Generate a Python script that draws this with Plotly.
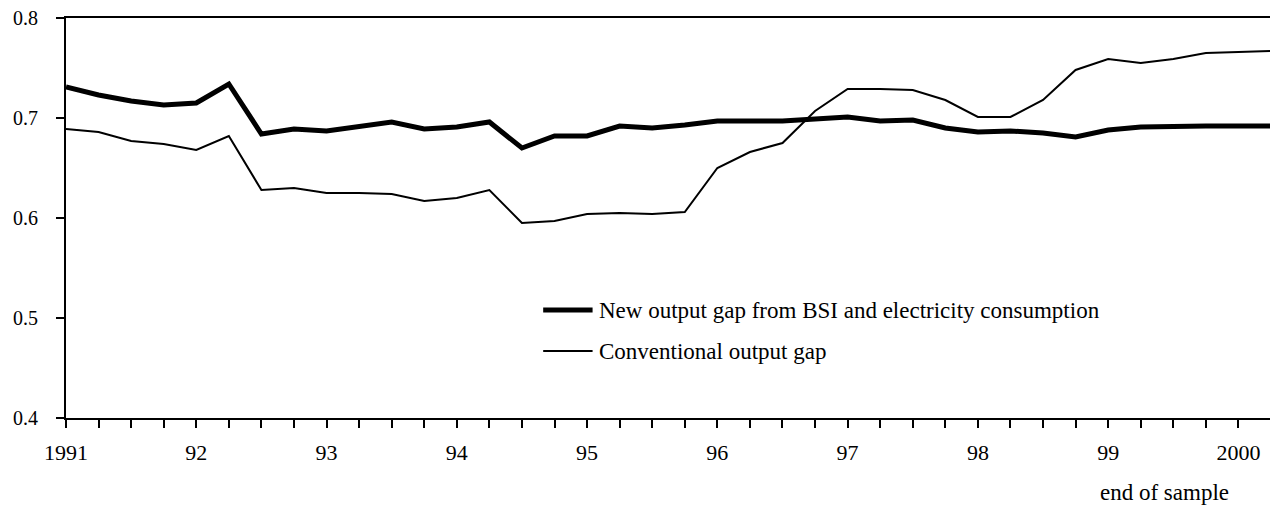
"""Output gap estimates: new (BSI + electricity) vs conventional, by end of sample."""

import plotly.graph_objects as go

# quarterly end-of-sample points, 1991Q1 .. 2000Q2
QUARTERS = [1991 + i * 0.25 for i in range(38)]

NEW_GAP = [
    0.731, 0.723, 0.717, 0.713, 0.715, 0.734, 0.684, 0.689,
    0.687, 0.692, 0.696, 0.689, 0.691, 0.696, 0.670, 0.682,
    0.682, 0.692, 0.690, 0.693, 0.697, 0.697, 0.697, 0.699,
    0.701, 0.697, 0.698, 0.690, 0.686, 0.687, 0.685, 0.681,
    0.688, 0.691, 0.692, 0.692, 0.692, 0.692,
]

CONVENTIONAL_GAP = [
    0.689, 0.686, 0.677, 0.674, 0.668, 0.682, 0.628, 0.630,
    0.625, 0.625, 0.624, 0.617, 0.620, 0.628, 0.595, 0.597,
    0.604, 0.605, 0.604, 0.606, 0.650, 0.666, 0.675, 0.707,
    0.729, 0.729, 0.728, 0.718, 0.701, 0.701, 0.718, 0.748,
    0.759, 0.755, 0.759, 0.765, 0.766, 0.767,
]

YEAR_LABELS = ["1991", "92", "93", "94", "95", "96", "97", "98", "99", "2000"]

SERIES_NAMES = [
    "New output gap from BSI and electricity consumption",
    "Conventional output gap",
]

FONT = "Times New Roman, Liberation Serif, DejaVu Serif, serif"

# tick at every quarter, label only at Q1
tick_text = []
for i, q in enumerate(QUARTERS):
    tick_text.append(YEAR_LABELS[i // 4] if i % 4 == 0 and i // 4 < len(YEAR_LABELS) else "")

fig = go.Figure()
fig.add_trace(go.Scatter(
    x=QUARTERS, y=NEW_GAP, mode="lines", name=SERIES_NAMES[0],
    line=dict(color="black", width=5),
))
fig.add_trace(go.Scatter(
    x=QUARTERS, y=CONVENTIONAL_GAP, mode="lines", name=SERIES_NAMES[1],
    line=dict(color="black", width=2),
))

axis_common = dict(
    showgrid=False, zeroline=False, automargin=False,
    showline=True, linecolor="black", linewidth=2, mirror=True,
    ticks="outside", ticklen=8, tickwidth=2, tickcolor="black",
    ticklabeloverflow="allow",
)

# page body adds an 8px margin, so the figure is 8px smaller than the window
fig.update_layout(
    width=1270, height=498,
    margin=dict(l=58, r=7, t=10, b=88),
    paper_bgcolor="white", plot_bgcolor="white",
    showlegend=False,
    font=dict(family=FONT, size=22, color="black"),
    xaxis=dict(
        range=[QUARTERS[0], QUARTERS[-1]],
        tickmode="array", tickvals=QUARTERS, ticktext=tick_text,
        ticklabelstandoff=6,
        tickfont=dict(family=FONT, size=22, color="black"),
        **axis_common,
    ),
    yaxis=dict(
        range=[0.4, 0.8], dtick=0.1, tickformat=".1f",
        ticklabelstandoff=14,
        tickfont=dict(family=FONT, size=20, color="black"),
        **axis_common,
    ),
)

# legend drawn by hand so the key lines match the original length
legend_rows = [(0.27, 5), (0.1675, 2)]
for (ly, lw), name in zip(legend_rows, SERIES_NAMES):
    fig.add_shape(
        type="line", xref="paper", yref="paper",
        x0=0.396, x1=0.437, y0=ly, y1=ly,
        line=dict(color="black", width=lw),
    )
    fig.add_annotation(
        xref="paper", yref="paper", x=0.4406, y=ly,
        xanchor="left", yanchor="middle", showarrow=False,
        text=name, font=dict(family=FONT, size=23, color="black"),
    )

fig.add_annotation(
    xref="paper", yref="paper", x=0.912, y=-0.185,
    xanchor="center", yanchor="middle", showarrow=False,
    text="end of sample", font=dict(family=FONT, size=23, color="black"),
)

fig.write_html("out.html")
